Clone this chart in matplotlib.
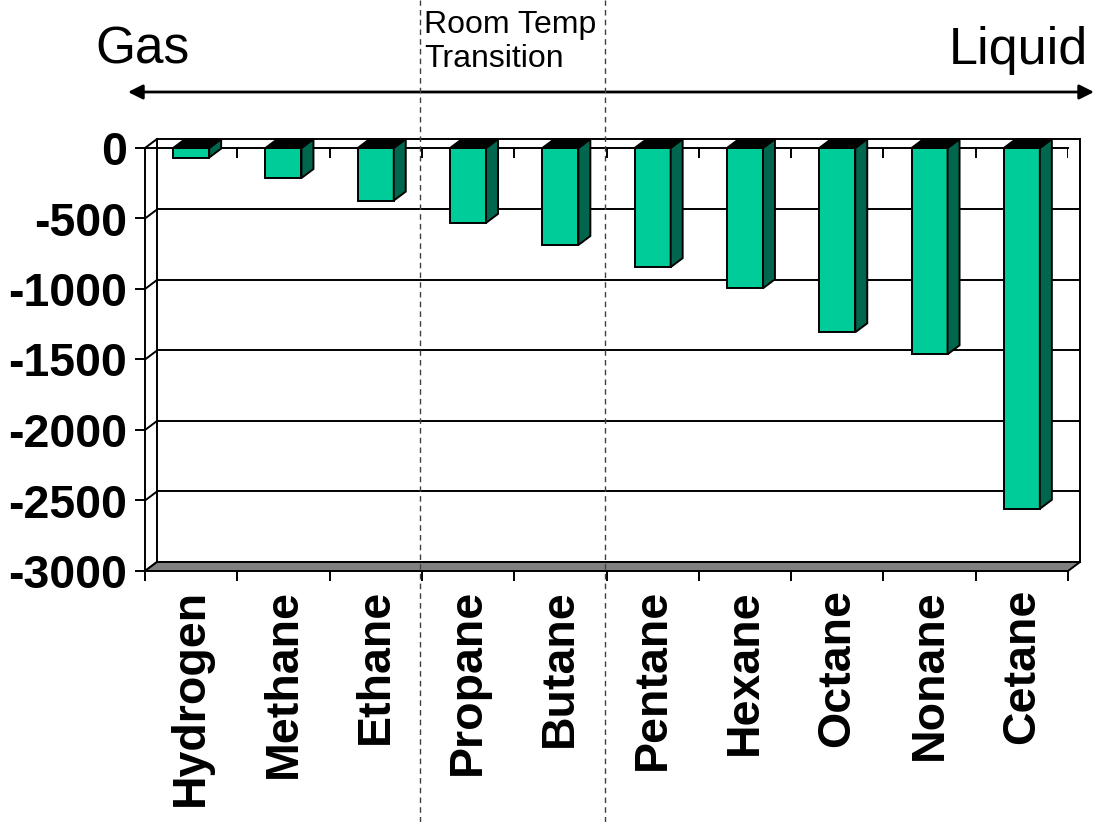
import matplotlib
matplotlib.use("Agg")
import matplotlib.pyplot as plt
import matplotlib.transforms as mtransforms
from matplotlib.patches import Polygon
import numpy as np

plt.rcParams['font.family'] = ['Liberation Sans', 'DejaVu Sans']

# heat of combustion (kcal/mol)
fuels = ['Hydrogen', 'Methane', 'Ethane', 'Propane', 'Butane',
         'Pentane', 'Hexane', 'Octane', 'Nonane', 'Cetane']
heat = [-68, -213, -373, -531, -688, -845, -995, -1307, -1463, -2559]
yticks = [0, -500, -1000, -1500, -2000, -2500, -3000]
transition_bounds = [2.5, 4.5]

front = '#00CC99'
side = '#00664D'
lw = 1.4

W, H = 1095, 822
fig = plt.figure(figsize=(W / 100, H / 100), dpi=100)
ax = fig.add_axes([145 / W, (H - 571) / H, 923 / W, 423 / H])
ax.set_xlim(-0.5, len(fuels) - 0.5)
ax.set_ylim(-3000, 0)

# depth offset of the 3d look, in data units
dx = (len(fuels)) * 12 / 923
dy = 3000 * 9 / 423
xl, xr = -0.5, len(fuels) - 0.5

for s in ['right', 'bottom']:
    ax.spines[s].set_visible(False)
ax.spines['left'].set_linewidth(lw)
ax.spines['top'].set_linewidth(lw)
ax.spines['top'].set_zorder(0.5)

# back wall, left wall
for v in yticks:
    ax.plot([xl + dx, xr + dx], [v + dy, v + dy], color='black', lw=lw,
            clip_on=False, zorder=0.3)
    ax.plot([xl, xl + dx], [v, v + dy], color='black', lw=lw,
            clip_on=False, zorder=0.3)
for xx in [xl, xr]:
    ax.plot([xx + dx, xx + dx], [dy, -3000 + dy], color='black', lw=lw,
            clip_on=False, zorder=0.3)

# floor
floor = Polygon([(xl, -3000), (xr, -3000), (xr + dx, -3000 + dy), (xl + dx, -3000 + dy)],
                closed=True, facecolor='#808080', edgecolor='black', lw=lw,
                clip_on=False, zorder=0.4)
ax.add_patch(floor)

# tick marks hanging from the zero line
bounds = np.arange(len(fuels) + 1) - 0.5
ax.vlines(bounds, 0, -10 * 3000 / 423, color='black', lw=lw, zorder=0.5)

# bars
x = np.arange(len(fuels))
bw = 0.39
ax.bar(x, heat, width=bw, color=front, edgecolor='black', lw=lw, zorder=3)
for xi, v in zip(x, heat):
    r = xi + bw / 2
    l = xi - bw / 2
    ax.add_patch(Polygon([(r, 0), (r, v), (r + dx, v + dy), (r + dx, dy)],
                         closed=True, facecolor=side, edgecolor='black', lw=lw,
                         clip_on=False, zorder=3))
    ax.add_patch(Polygon([(l, 0), (r, 0), (r + dx, dy), (l + dx, dy)],
                         closed=True, facecolor='black', edgecolor='black', lw=lw,
                         clip_on=False, zorder=3))

# axes ticks
ax.set_yticks(yticks)
ax.set_yticklabels([str(v) for v in yticks], fontsize=33.5, fontweight='bold')
ax.tick_params(axis='y', direction='out', length=7.2, width=lw, pad=6)
ax.set_xticks(x)
ax.set_xticklabels(fuels, rotation=90, fontsize=33.5, fontweight='bold')
ax.set_xticks(bounds, minor=True)
ax.tick_params(axis='x', which='major', length=0, pad=13)
ax.tick_params(axis='x', which='minor', direction='out', length=7.2, width=lw)

# room temperature transition
trans = mtransforms.blended_transform_factory(ax.transData, fig.transFigure)
for b in transition_bounds:
    ax.plot([b - 0.02, b - 0.02], [0, 1], transform=trans, color='#404040', lw=1,
            ls=(0, (4, 3)), clip_on=False, zorder=6)

fig.text(424 / W, 1 - 33 / H, 'Room Temp', fontsize=23, va='baseline', ha='left')
fig.text(424 / W, 1 - 67 / H, 'Transition', fontsize=23, va='baseline', ha='left')

fig.text(95 / W, 1 - 63 / H, 'Gas', fontsize=37, va='baseline', ha='left')
fig.text(1088 / W, 1 - 64 / H, 'Liquid', fontsize=37.5, va='baseline', ha='right')

ax.annotate('', xy=(128 / W, 1 - 92 / H), xytext=(1094 / W, 1 - 92 / H),
            xycoords='figure fraction', textcoords='figure fraction',
            arrowprops=dict(arrowstyle='<|-|>', color='black', lw=2,
                            mutation_scale=22, shrinkA=0, shrinkB=0))

fig.savefig('out.png', dpi=100)
